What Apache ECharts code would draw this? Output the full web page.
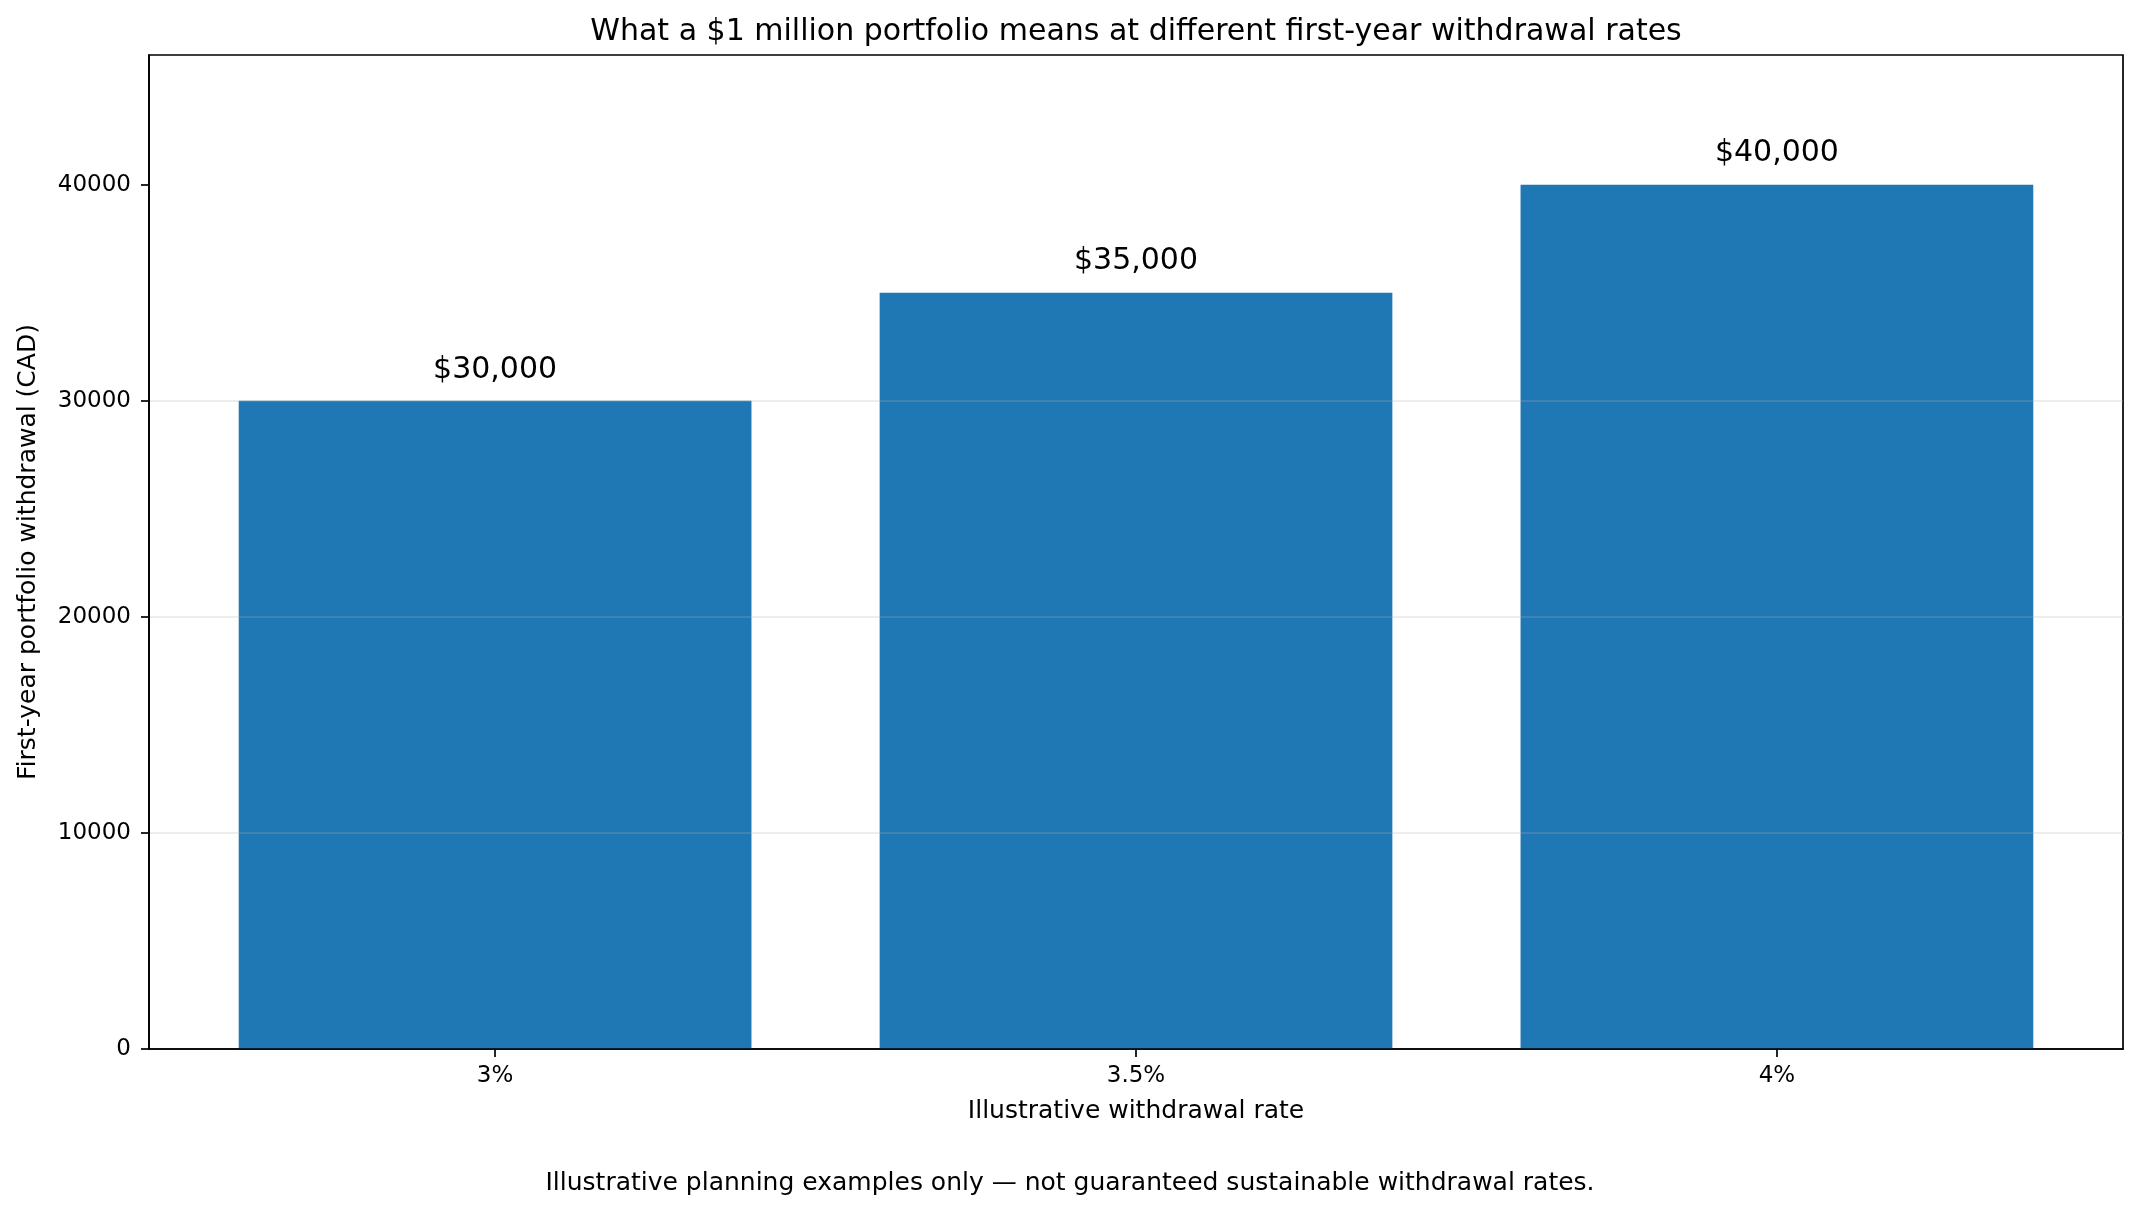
<!DOCTYPE html>
<html>
<head>
<meta charset="utf-8">
<script src="https://cdn.jsdelivr.net/npm/echarts@6/dist/echarts.min.js"></script>
<style>
html,body{margin:0;padding:0;background:#fff;}
#chart{width:2141px;height:1214px;}
</style>
</head>
<body>
<div id="chart"></div>
<script>
const categories = ['3%', '3.5%', '4%'];
const withdrawals = [30000, 35000, 40000];
const yTicks = [0, 10000, 20000, 30000, 40000];
const titleText = 'What a $1 million portfolio means at different first-year withdrawal rates';
const xName = 'Illustrative withdrawal rate';
const yName = 'First-year portfolio withdrawal (CAD)';
const footnote = 'Illustrative planning examples only \u2014 not guaranteed sustainable withdrawal rates.';

const FONT = 'DejaVu Sans';
const xPositions = categories.map((c, i) => i);
const barData = withdrawals.map((v, i) => [xPositions[i], v]);

const chart = echarts.init(document.getElementById('chart'), null, {renderer: 'canvas'});
chart.setOption({
  animation: false,
  backgroundColor: '#ffffff',
  textStyle: {fontFamily: FONT},
  title: [
    {text: titleText, left: 1131, top: 12, textAlign: 'center',
     textStyle: {fontFamily: FONT, fontSize: 30, fontWeight: 'normal', color: '#000'}},
    {text: footnote, left: 1065, top: 1166, textAlign: 'center',
     textStyle: {fontFamily: FONT, fontSize: 25, fontWeight: 'normal', color: '#000'}}
  ],
  grid: {left: 149, right: 18, top: 55, bottom: 165, show: true,
         borderColor: '#000', borderWidth: 1.7, backgroundColor: 'transparent'},
  xAxis: {
    type: 'value', min: -0.54, max: 2.54, z: 3,
    name: xName, nameLocation: 'middle', nameGap: 50,
    nameTextStyle: {fontFamily: FONT, fontSize: 25, color: '#000'},
    axisLine: {show: true, onZero: false, lineStyle: {color: '#000', width: 1.7}},
    axisTick: {show: true, length: 8, customValues: xPositions, lineStyle: {color: '#000', width: 1.7}},
    axisLabel: {customValues: xPositions, margin: 16, fontFamily: FONT, fontSize: 23, color: '#000',
                formatter: v => categories[Math.round(v)] ?? ''},
    splitLine: {show: false}
  },
  yAxis: {
    type: 'value', min: 0, max: 46000, interval: 10000, z: 3,
    name: yName, nameLocation: 'middle', nameGap: 108, nameRotate: 90,
    nameTextStyle: {fontFamily: FONT, fontSize: 25, color: '#000'},
    axisLine: {show: true, onZero: false, lineStyle: {color: '#000', width: 1.7}},
    axisTick: {show: true, length: 8, customValues: yTicks, lineStyle: {color: '#000', width: 1.7}},
    axisLabel: {customValues: yTicks, margin: 18, fontFamily: FONT, fontSize: 23, color: '#000',
                formatter: v => String(v)},
    splitLine: {show: true, showMinLine: false, showMaxLine: false,
                lineStyle: {color: 'rgba(176,176,176,0.3)', width: 1.7}}
  },
  series: [{
    type: 'bar',
    data: barData,
    barWidth: '80%',
    itemStyle: {color: '#1f77b4'},
    label: {show: true, position: 'top', distance: 16, fontFamily: FONT, fontSize: 30, color: '#000',
            formatter: p => '$' + p.value[1].toLocaleString('en-US')}
  }]
});
</script>
</body>
</html>
